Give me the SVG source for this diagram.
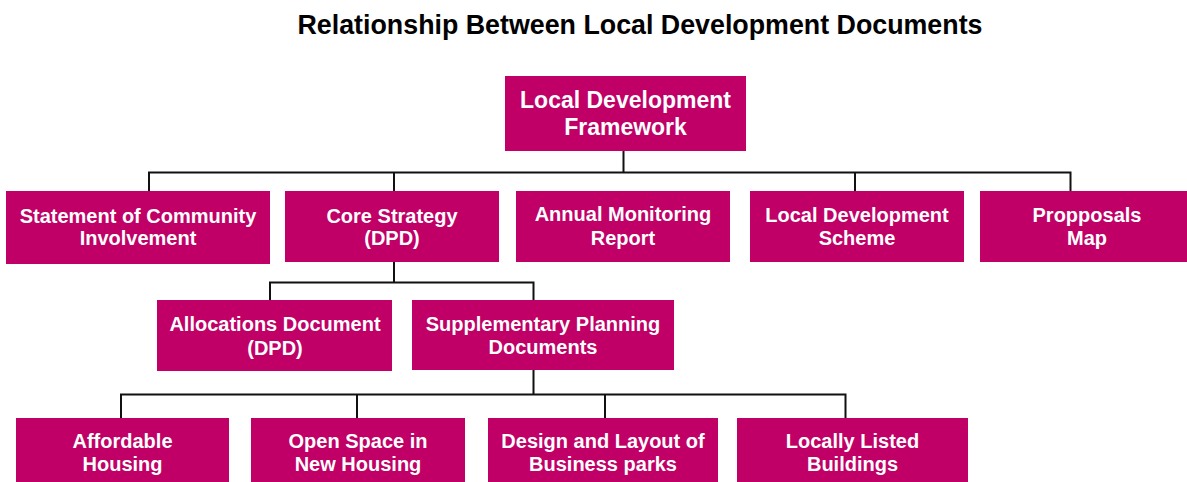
<svg xmlns="http://www.w3.org/2000/svg" width="1187" height="482" viewBox="0 0 1187 482">
<style>
.box{fill:#C00066}
.t{font-family:"Liberation Sans",Arial,sans-serif;font-weight:bold;fill:#fff;text-anchor:middle;font-size:20px}
.big{font-size:23px}
.title{font-family:"Liberation Sans",Arial,sans-serif;font-weight:bold;fill:#000;text-anchor:middle;font-size:26.8px}
.c{stroke:#111;stroke-width:2;fill:none}
</style>
<rect width="1187" height="482" fill="#fff"/>
<text class="title" x="640" y="34">Relationship Between Local Development Documents</text>
<g id="connectors">
<path class="c" d="M623.5 151V172.5M149 191V172.5H1070.5V191M394 172.5V191M855 172.5V191"/>
<path class="c" d="M394 262V282.5M270 300V282.5H533.5V300"/>
<path class="c" d="M533.5 370V394.5M121 418V394.5H845.5V418M357 394.5V418M605 394.5V418"/>
</g>
<g id="ldf"><rect class="box" x="505" y="76" width="241" height="75"/><text class="t big" x="625.5" y="108">Local Development</text><text class="t big" x="625.5" y="135">Framework</text></g>
<g id="sci"><rect class="box" x="6" y="191" width="264" height="73"/><text class="t" x="138" y="223">Statement of Community</text><text class="t" x="138" y="245">Involvement</text></g>
<g id="core"><rect class="box" x="285" y="191" width="214" height="71"/><text class="t" x="392" y="223">Core Strategy</text><text class="t" x="392" y="245">(DPD)</text></g>
<g id="amr"><rect class="box" x="516" y="191" width="214" height="71"/><text class="t" x="623" y="221">Annual Monitoring</text><text class="t" x="623" y="245">Report</text></g>
<g id="lds"><rect class="box" x="750" y="191" width="214" height="71"/><text class="t" x="857" y="222">Local Development</text><text class="t" x="857" y="245">Scheme</text></g>
<g id="map"><rect class="box" x="980" y="191" width="214" height="71"/><text class="t" x="1087" y="222">Propposals</text><text class="t" x="1087" y="245">Map</text></g>
<g id="alloc"><rect class="box" x="157" y="300" width="235" height="71"/><text class="t" x="275" y="331">Allocations Document</text><text class="t" x="275" y="355">(DPD)</text></g>
<g id="spd"><rect class="box" x="412" y="300" width="262" height="70"/><text class="t" x="543" y="331">Supplementary Planning</text><text class="t" x="543" y="354">Documents</text></g>
<g id="afford"><rect class="box" x="16" y="418" width="213" height="64"/><text class="t" x="122.5" y="448">Affordable</text><text class="t" x="122.5" y="471">Housing</text></g>
<g id="open"><rect class="box" x="251" y="418" width="214" height="64"/><text class="t" x="358" y="448">Open Space in</text><text class="t" x="358" y="471">New Housing</text></g>
<g id="design"><rect class="box" x="488" y="418" width="230" height="64"/><text class="t" x="603" y="448">Design and Layout of</text><text class="t" x="603" y="471">Business parks</text></g>
<g id="listed"><rect class="box" x="737" y="418" width="231" height="64"/><text class="t" x="852.5" y="448">Locally Listed</text><text class="t" x="852.5" y="471">Buildings</text></g>
</svg>
